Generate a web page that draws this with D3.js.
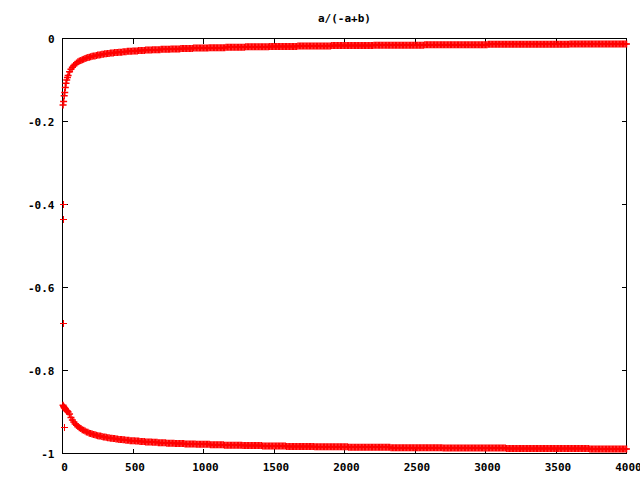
<!DOCTYPE html>
<html>
<head>
<meta charset="utf-8">
<script src="https://cdn.jsdelivr.net/npm/d3@7"></script>
<style>
  body { margin: 0; background: #fff; }
  text { font-family: "DejaVu Sans Mono", monospace; font-weight: bold; font-size: 11px; fill: #000; }
</style>
</head>
<body>
<script>
const TITLE = 'a/(-a+b)';
const xTicks = [0, 500, 1000, 1500, 2000, 2500, 3000, 3500, 4000];
const yTicks = [0, -0.2, -0.4, -0.6, -0.8, -1];
const yTickLabels = ['0', '-0.2', '-0.4', '-0.6', '-0.8', '-1'];

// lone points near x = 0
const outlierPoints = [[4, -0.400], [4, -0.436], [4, -0.687], [16, -0.937]];

// upper branch
const upperPoints = [
  [4,-0.160],[8,-0.152],[12,-0.138],[16,-0.130],[20,-0.118],[25,-0.108],[30,-0.100],[35,-0.094],[40,-0.089],
  [50,-0.080],[60,-0.074],[70,-0.069],[80,-0.065],[90,-0.062],
  [100,-0.059],[110,-0.056],[120,-0.054],[130,-0.053],[140,-0.051],[150,-0.050],[160,-0.048],[170,-0.047],[180,-0.046],[190,-0.045],
  [200,-0.044],[210,-0.043],[220,-0.042],[230,-0.042],[240,-0.041],[250,-0.040],[260,-0.040],[270,-0.039],[280,-0.038],[290,-0.038],
  [300,-0.037],[310,-0.037],[320,-0.036],[330,-0.036],[340,-0.035],[350,-0.035],[360,-0.035],[370,-0.034],[380,-0.034],[390,-0.034],
  [400,-0.033],[410,-0.033],[420,-0.033],[430,-0.032],[440,-0.032],[450,-0.032],[460,-0.031],[470,-0.031],[480,-0.031],[490,-0.031],
  [500,-0.030],[510,-0.030],[520,-0.030],[530,-0.030],[540,-0.029],[550,-0.029],[560,-0.029],[570,-0.029],[580,-0.029],[590,-0.028],
  [600,-0.028],[610,-0.028],[620,-0.028],[630,-0.028],[640,-0.027],[650,-0.027],[660,-0.027],[670,-0.027],[680,-0.027],[690,-0.027],
  [700,-0.026],[710,-0.026],[720,-0.026],[730,-0.026],[740,-0.026],[750,-0.026],[760,-0.026],[770,-0.025],[780,-0.025],[790,-0.025],
  [800,-0.025],[810,-0.025],[820,-0.025],[830,-0.025],[840,-0.024],[850,-0.024],[860,-0.024],[870,-0.024],[880,-0.024],[890,-0.024],
  [900,-0.024],[910,-0.024],[920,-0.024],[930,-0.023],[940,-0.023],[950,-0.023],[960,-0.023],[970,-0.023],[980,-0.023],[990,-0.023],
  [1000,-0.023],[1010,-0.023],[1020,-0.023],[1030,-0.023],[1040,-0.022],[1050,-0.022],[1060,-0.022],[1070,-0.022],[1080,-0.022],[1090,-0.022],
  [1100,-0.022],[1110,-0.022],[1120,-0.022],[1130,-0.022],[1140,-0.022],[1150,-0.022],[1160,-0.021],[1170,-0.021],[1180,-0.021],[1190,-0.021],
  [1200,-0.021],[1210,-0.021],[1220,-0.021],[1230,-0.021],[1240,-0.021],[1250,-0.021],[1260,-0.021],[1270,-0.021],[1280,-0.021],[1290,-0.021],
  [1300,-0.020],[1310,-0.020],[1320,-0.020],[1330,-0.020],[1340,-0.020],[1350,-0.020],[1360,-0.020],[1370,-0.020],[1380,-0.020],[1390,-0.020],
  [1400,-0.020],[1410,-0.020],[1420,-0.020],[1430,-0.020],[1440,-0.020],[1450,-0.020],[1460,-0.020],[1470,-0.019],[1480,-0.019],[1490,-0.019],
  [1500,-0.019],[1510,-0.019],[1520,-0.019],[1530,-0.019],[1540,-0.019],[1550,-0.019],[1560,-0.019],[1570,-0.019],[1580,-0.019],[1590,-0.019],
  [1600,-0.019],[1610,-0.019],[1620,-0.019],[1630,-0.019],[1640,-0.019],[1650,-0.019],[1660,-0.019],[1670,-0.018],[1680,-0.018],[1690,-0.018],
  [1700,-0.018],[1710,-0.018],[1720,-0.018],[1730,-0.018],[1740,-0.018],[1750,-0.018],[1760,-0.018],[1770,-0.018],[1780,-0.018],[1790,-0.018],
  [1800,-0.018],[1810,-0.018],[1820,-0.018],[1830,-0.018],[1840,-0.018],[1850,-0.018],[1860,-0.018],[1870,-0.018],[1880,-0.018],[1890,-0.018],
  [1900,-0.018],[1910,-0.017],[1920,-0.017],[1930,-0.017],[1940,-0.017],[1950,-0.017],[1960,-0.017],[1970,-0.017],[1980,-0.017],[1990,-0.017],
  [2000,-0.017],[2010,-0.017],[2020,-0.017],[2030,-0.017],[2040,-0.017],[2050,-0.017],[2060,-0.017],[2070,-0.017],[2080,-0.017],[2090,-0.017],
  [2100,-0.017],[2110,-0.017],[2120,-0.017],[2130,-0.017],[2140,-0.017],[2150,-0.017],[2160,-0.017],[2170,-0.017],[2180,-0.017],[2190,-0.017],
  [2200,-0.017],[2210,-0.016],[2220,-0.016],[2230,-0.016],[2240,-0.016],[2250,-0.016],[2260,-0.016],[2270,-0.016],[2280,-0.016],[2290,-0.016],
  [2300,-0.016],[2310,-0.016],[2320,-0.016],[2330,-0.016],[2340,-0.016],[2350,-0.016],[2360,-0.016],[2370,-0.016],[2380,-0.016],[2390,-0.016],
  [2400,-0.016],[2410,-0.016],[2420,-0.016],[2430,-0.016],[2440,-0.016],[2450,-0.016],[2460,-0.016],[2470,-0.016],[2480,-0.016],[2490,-0.016],
  [2500,-0.016],[2510,-0.016],[2520,-0.016],[2530,-0.016],[2540,-0.016],[2550,-0.016],[2560,-0.016],[2570,-0.015],[2580,-0.015],[2590,-0.015],
  [2600,-0.015],[2610,-0.015],[2620,-0.015],[2630,-0.015],[2640,-0.015],[2650,-0.015],[2660,-0.015],[2670,-0.015],[2680,-0.015],[2690,-0.015],
  [2700,-0.015],[2710,-0.015],[2720,-0.015],[2730,-0.015],[2740,-0.015],[2750,-0.015],[2760,-0.015],[2770,-0.015],[2780,-0.015],[2790,-0.015],
  [2800,-0.015],[2810,-0.015],[2820,-0.015],[2830,-0.015],[2840,-0.015],[2850,-0.015],[2860,-0.015],[2870,-0.015],[2880,-0.015],[2890,-0.015],
  [2900,-0.015],[2910,-0.015],[2920,-0.015],[2930,-0.015],[2940,-0.015],[2950,-0.015],[2960,-0.015],[2970,-0.015],[2980,-0.015],[2990,-0.015],
  [3000,-0.015],[3010,-0.015],[3020,-0.014],[3030,-0.014],[3040,-0.014],[3050,-0.014],[3060,-0.014],[3070,-0.014],[3080,-0.014],[3090,-0.014],
  [3100,-0.014],[3110,-0.014],[3120,-0.014],[3130,-0.014],[3140,-0.014],[3150,-0.014],[3160,-0.014],[3170,-0.014],[3180,-0.014],[3190,-0.014],
  [3200,-0.014],[3210,-0.014],[3220,-0.014],[3230,-0.014],[3240,-0.014],[3250,-0.014],[3260,-0.014],[3270,-0.014],[3280,-0.014],[3290,-0.014],
  [3300,-0.014],[3310,-0.014],[3320,-0.014],[3330,-0.014],[3340,-0.014],[3350,-0.014],[3360,-0.014],[3370,-0.014],[3380,-0.014],[3390,-0.014],
  [3400,-0.014],[3410,-0.014],[3420,-0.014],[3430,-0.014],[3440,-0.014],[3450,-0.014],[3460,-0.014],[3470,-0.014],[3480,-0.014],[3490,-0.014],
  [3500,-0.014],[3510,-0.014],[3520,-0.014],[3530,-0.014],[3540,-0.014],[3550,-0.014],[3560,-0.014],[3570,-0.014],[3580,-0.014],[3590,-0.014],
  [3600,-0.013],[3610,-0.013],[3620,-0.013],[3630,-0.013],[3640,-0.013],[3650,-0.013],[3660,-0.013],[3670,-0.013],[3680,-0.013],[3690,-0.013],
  [3700,-0.013],[3710,-0.013],[3720,-0.013],[3730,-0.013],[3740,-0.013],[3750,-0.013],[3760,-0.013],[3770,-0.013],[3780,-0.013],[3790,-0.013],
  [3800,-0.013],[3810,-0.013],[3820,-0.013],[3830,-0.013],[3840,-0.013],[3850,-0.013],[3860,-0.013],[3870,-0.013],[3880,-0.013],[3890,-0.013],
  [3900,-0.013],[3910,-0.013],[3920,-0.013],[3930,-0.013],[3940,-0.013],[3950,-0.013],[3960,-0.013],[3970,-0.013],[3980,-0.013],[3990,-0.013],
  [4000,-0.013]
];

// lower branch
const lowerPoints = [
  [4,-0.884],[8,-0.887],[12,-0.889],[16,-0.891],[20,-0.893],[25,-0.895],[30,-0.897],[35,-0.898],[40,-0.900],
  [50,-0.905],[60,-0.913],[70,-0.919],[80,-0.924],[90,-0.929],
  [100,-0.932],[110,-0.935],[120,-0.938],[130,-0.940],[140,-0.943],[150,-0.944],[160,-0.946],[170,-0.948],[180,-0.949],[190,-0.951],
  [200,-0.952],[210,-0.953],[220,-0.954],[230,-0.955],[240,-0.956],[250,-0.957],[260,-0.958],[270,-0.958],[280,-0.959],[290,-0.960],
  [300,-0.960],[310,-0.961],[320,-0.962],[330,-0.962],[340,-0.963],[350,-0.963],[360,-0.964],[370,-0.964],[380,-0.965],[390,-0.965],
  [400,-0.966],[410,-0.966],[420,-0.966],[430,-0.967],[440,-0.967],[450,-0.968],[460,-0.968],[470,-0.968],[480,-0.969],[490,-0.969],
  [500,-0.969],[510,-0.969],[520,-0.970],[530,-0.970],[540,-0.970],[550,-0.971],[560,-0.971],[570,-0.971],[580,-0.971],[590,-0.972],
  [600,-0.972],[610,-0.972],[620,-0.972],[630,-0.972],[640,-0.973],[650,-0.973],[660,-0.973],[670,-0.973],[680,-0.974],[690,-0.974],
  [700,-0.974],[710,-0.974],[720,-0.974],[730,-0.974],[740,-0.975],[750,-0.975],[760,-0.975],[770,-0.975],[780,-0.975],[790,-0.975],
  [800,-0.976],[810,-0.976],[820,-0.976],[830,-0.976],[840,-0.976],[850,-0.976],[860,-0.976],[870,-0.977],[880,-0.977],[890,-0.977],
  [900,-0.977],[910,-0.977],[920,-0.977],[930,-0.977],[940,-0.977],[950,-0.978],[960,-0.978],[970,-0.978],[980,-0.978],[990,-0.978],
  [1000,-0.978],[1010,-0.978],[1020,-0.978],[1030,-0.978],[1040,-0.978],[1050,-0.979],[1060,-0.979],[1070,-0.979],[1080,-0.979],[1090,-0.979],
  [1100,-0.979],[1110,-0.979],[1120,-0.979],[1130,-0.979],[1140,-0.979],[1150,-0.980],[1160,-0.980],[1170,-0.980],[1180,-0.980],[1190,-0.980],
  [1200,-0.980],[1210,-0.980],[1220,-0.980],[1230,-0.980],[1240,-0.980],[1250,-0.980],[1260,-0.980],[1270,-0.980],[1280,-0.981],[1290,-0.981],
  [1300,-0.981],[1310,-0.981],[1320,-0.981],[1330,-0.981],[1340,-0.981],[1350,-0.981],[1360,-0.981],[1370,-0.981],[1380,-0.981],[1390,-0.981],
  [1400,-0.981],[1410,-0.981],[1420,-0.982],[1430,-0.982],[1440,-0.982],[1450,-0.982],[1460,-0.982],[1470,-0.982],[1480,-0.982],[1490,-0.982],
  [1500,-0.982],[1510,-0.982],[1520,-0.982],[1530,-0.982],[1540,-0.982],[1550,-0.982],[1560,-0.982],[1570,-0.982],[1580,-0.982],[1590,-0.983],
  [1600,-0.983],[1610,-0.983],[1620,-0.983],[1630,-0.983],[1640,-0.983],[1650,-0.983],[1660,-0.983],[1670,-0.983],[1680,-0.983],[1690,-0.983],
  [1700,-0.983],[1710,-0.983],[1720,-0.983],[1730,-0.983],[1740,-0.983],[1750,-0.983],[1760,-0.983],[1770,-0.983],[1780,-0.983],[1790,-0.984],
  [1800,-0.984],[1810,-0.984],[1820,-0.984],[1830,-0.984],[1840,-0.984],[1850,-0.984],[1860,-0.984],[1870,-0.984],[1880,-0.984],[1890,-0.984],
  [1900,-0.984],[1910,-0.984],[1920,-0.984],[1930,-0.984],[1940,-0.984],[1950,-0.984],[1960,-0.984],[1970,-0.984],[1980,-0.984],[1990,-0.984],
  [2000,-0.984],[2010,-0.984],[2020,-0.984],[2030,-0.985],[2040,-0.985],[2050,-0.985],[2060,-0.985],[2070,-0.985],[2080,-0.985],[2090,-0.985],
  [2100,-0.985],[2110,-0.985],[2120,-0.985],[2130,-0.985],[2140,-0.985],[2150,-0.985],[2160,-0.985],[2170,-0.985],[2180,-0.985],[2190,-0.985],
  [2200,-0.985],[2210,-0.985],[2220,-0.985],[2230,-0.985],[2240,-0.985],[2250,-0.985],[2260,-0.985],[2270,-0.985],[2280,-0.985],[2290,-0.985],
  [2300,-0.985],[2310,-0.985],[2320,-0.985],[2330,-0.986],[2340,-0.986],[2350,-0.986],[2360,-0.986],[2370,-0.986],[2380,-0.986],[2390,-0.986],
  [2400,-0.986],[2410,-0.986],[2420,-0.986],[2430,-0.986],[2440,-0.986],[2450,-0.986],[2460,-0.986],[2470,-0.986],[2480,-0.986],[2490,-0.986],
  [2500,-0.986],[2510,-0.986],[2520,-0.986],[2530,-0.986],[2540,-0.986],[2550,-0.986],[2560,-0.986],[2570,-0.986],[2580,-0.986],[2590,-0.986],
  [2600,-0.986],[2610,-0.986],[2620,-0.986],[2630,-0.986],[2640,-0.986],[2650,-0.986],[2660,-0.986],[2670,-0.986],[2680,-0.986],[2690,-0.986],
  [2700,-0.987],[2710,-0.987],[2720,-0.987],[2730,-0.987],[2740,-0.987],[2750,-0.987],[2760,-0.987],[2770,-0.987],[2780,-0.987],[2790,-0.987],
  [2800,-0.987],[2810,-0.987],[2820,-0.987],[2830,-0.987],[2840,-0.987],[2850,-0.987],[2860,-0.987],[2870,-0.987],[2880,-0.987],[2890,-0.987],
  [2900,-0.987],[2910,-0.987],[2920,-0.987],[2930,-0.987],[2940,-0.987],[2950,-0.987],[2960,-0.987],[2970,-0.987],[2980,-0.987],[2990,-0.987],
  [3000,-0.987],[3010,-0.987],[3020,-0.987],[3030,-0.987],[3040,-0.987],[3050,-0.987],[3060,-0.987],[3070,-0.987],[3080,-0.987],[3090,-0.987],
  [3100,-0.987],[3110,-0.987],[3120,-0.987],[3130,-0.987],[3140,-0.987],[3150,-0.988],[3160,-0.988],[3170,-0.988],[3180,-0.988],[3190,-0.988],
  [3200,-0.988],[3210,-0.988],[3220,-0.988],[3230,-0.988],[3240,-0.988],[3250,-0.988],[3260,-0.988],[3270,-0.988],[3280,-0.988],[3290,-0.988],
  [3300,-0.988],[3310,-0.988],[3320,-0.988],[3330,-0.988],[3340,-0.988],[3350,-0.988],[3360,-0.988],[3370,-0.988],[3380,-0.988],[3390,-0.988],
  [3400,-0.988],[3410,-0.988],[3420,-0.988],[3430,-0.988],[3440,-0.988],[3450,-0.988],[3460,-0.988],[3470,-0.988],[3480,-0.988],[3490,-0.988],
  [3500,-0.988],[3510,-0.988],[3520,-0.988],[3530,-0.988],[3540,-0.988],[3550,-0.988],[3560,-0.988],[3570,-0.988],[3580,-0.988],[3590,-0.988],
  [3600,-0.988],[3610,-0.988],[3620,-0.988],[3630,-0.988],[3640,-0.988],[3650,-0.988],[3660,-0.988],[3670,-0.988],[3680,-0.988],[3690,-0.988],
  [3700,-0.988],[3710,-0.988],[3720,-0.988],[3730,-0.988],[3740,-0.989],[3750,-0.989],[3760,-0.989],[3770,-0.989],[3780,-0.989],[3790,-0.989],
  [3800,-0.989],[3810,-0.989],[3820,-0.989],[3830,-0.989],[3840,-0.989],[3850,-0.989],[3860,-0.989],[3870,-0.989],[3880,-0.989],[3890,-0.989],
  [3900,-0.989],[3910,-0.989],[3920,-0.989],[3930,-0.989],[3940,-0.989],[3950,-0.989],[3960,-0.989],[3970,-0.989],[3980,-0.989],[3990,-0.989],
  [4000,-0.989]
];

// plot box, pixel edges of the gnuplot frame
const SCREEN = { width: 640, height: 480, left: 62.5, right: 626.5, top: 38.5, bottom: 453.5 };
const TICK = 5;
const PLUS = 'M-3.5,0H3.5M0,-3.5V3.5';

const svg = d3.select('body').append('svg')
    .attr('width', SCREEN.width)
    .attr('height', SCREEN.height);

svg.append('rect')
    .attr('width', SCREEN.width)
    .attr('height', SCREEN.height)
    .attr('fill', '#fff');

const x = d3.scaleLinear().domain([0, 4000]).range([SCREEN.left, SCREEN.right]);
const y = d3.scaleLinear().domain([-1, 0]).range([SCREEN.bottom, SCREEN.top]);

// ticks point inwards on all four sides, labels only bottom and left
const xAxis = svg.append('g')
    .attr('transform', `translate(0,${SCREEN.bottom})`)
    .call(d3.axisBottom(x).tickValues(xTicks).tickFormat(d3.format('d'))
        .tickSize(-TICK).tickPadding(10).offset(0));

const yAxis = svg.append('g')
    .attr('transform', `translate(${SCREEN.left},0)`)
    .call(d3.axisLeft(y).tickValues(yTicks).tickFormat((d, i) => yTickLabels[i])
        .tickSize(-TICK).tickPadding(8).offset(0));

svg.append('g')
    .attr('transform', `translate(0,${SCREEN.top})`)
    .call(d3.axisTop(x).tickValues(xTicks).tickFormat('').tickSize(-TICK).offset(0));

svg.append('g')
    .attr('transform', `translate(${SCREEN.right},0)`)
    .call(d3.axisRight(y).tickValues(yTicks).tickFormat('').tickSize(-TICK).offset(0));

svg.selectAll('.domain').remove();
svg.selectAll('.tick line').attr('stroke', '#000').attr('shape-rendering', 'crispEdges');
svg.selectAll('.tick text')
    .attr('fill', '#000')
    .style('font-family', '"DejaVu Sans Mono", monospace')
    .style('font-weight', 'bold')
    .style('font-size', '11px');
xAxis.selectAll('.tick text').attr('dx', 2);
yAxis.selectAll('.tick text').attr('dy', '0.45em');

svg.append('rect')
    .attr('x', SCREEN.left)
    .attr('y', SCREEN.top)
    .attr('width', SCREEN.right - SCREEN.left)
    .attr('height', SCREEN.bottom - SCREEN.top)
    .attr('fill', 'none')
    .attr('stroke', '#000')
    .attr('shape-rendering', 'crispEdges');

svg.append('text')
    .attr('x', (SCREEN.left + SCREEN.right) / 2)
    .attr('y', 22)
    .attr('text-anchor', 'middle')
    .text(TITLE);

// dense branches: slightly wider strokes so neighbouring "+" merge into a band
const points = svg.append('g').attr('fill', 'none').attr('stroke', '#ff0000');

points.selectAll('path.band')
    .data(upperPoints.concat(lowerPoints))
    .enter().append('path')
    .attr('class', 'band')
    .attr('stroke-width', 1.5)
    .attr('transform', d => `translate(${x(d[0])},${y(d[1])})`)
    .attr('d', PLUS);

points.selectAll('path.lone')
    .data(outlierPoints)
    .enter().append('path')
    .attr('class', 'lone')
    .attr('stroke-width', 1)
    .attr('shape-rendering', 'crispEdges')
    .attr('transform', d => `translate(${Math.round(x(d[0]) - 0.5) + 0.5},${Math.round(y(d[1]) - 0.5) + 0.5})`)
    .attr('d', PLUS);
</script>
</body>
</html>
